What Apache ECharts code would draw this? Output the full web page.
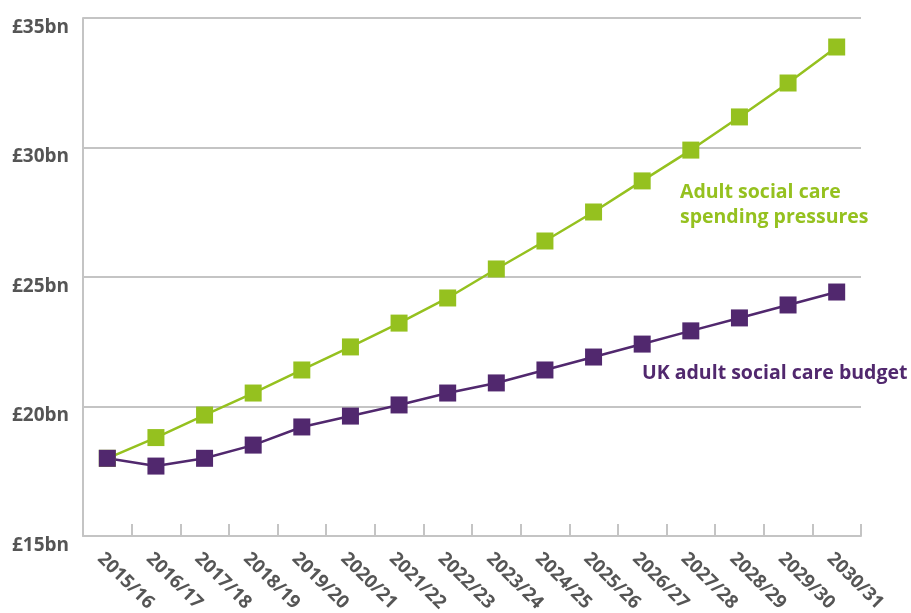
<!DOCTYPE html>
<html>
<head>
<meta charset="utf-8">
<script src="https://cdn.jsdelivr.net/npm/echarts@6/dist/echarts.min.js"></script>
<style>html,body{margin:0;padding:0;background:#fff}#c{width:911px;height:613px}</style>
</head>
<body>
<div id="c"></div>
<script>
const categories = ['2015/16','2016/17','2017/18','2018/19','2019/20','2020/21','2021/22','2022/23','2023/24','2024/25','2025/26','2026/27','2027/28','2028/29','2029/30','2030/31'];
const pressures = [18.0,18.8,19.67,20.52,21.41,22.3,23.22,24.19,25.31,26.39,27.51,28.71,29.9,31.18,32.49,33.88];
const budget = [18.0,17.7,18.0,18.51,19.21,19.63,20.06,20.52,20.91,21.41,21.91,22.41,22.92,23.42,23.92,24.42];
const yTicks = [15,20,25,30,35];
const seriesNames = ['Adult social care\nspending pressures','UK adult social care budget'];

const green = '#95c11f', purple = '#51286e', grey = '#555555';
const font = '"Open Sans", sans-serif';
const chart = echarts.init(document.getElementById('c'));
chart.setOption({
  animation: false,
  grid: {left: 83, right: 50, top: 18, bottom: 77, containLabel: false, outerBoundsMode: 'none'},
  xAxis: {
    type: 'category', data: categories, boundaryGap: true,
    axisLine: {lineStyle: {color: '#c4c4c4', width: 2}},
    axisTick: {show: true, inside: true, length: 12, lineStyle: {color: '#c4c4c4', width: 2}},
    axisLabel: {rotate: -45, color: grey, fontFamily: font, fontWeight: 700, fontSize: 18.5, margin: 13, interval: 0, verticalAlign: 'top'}
  },
  yAxis: {
    type: 'value', min: yTicks[0], max: yTicks[yTicks.length-1], interval: 5,
    axisLine: {show: true, lineStyle: {color: '#c4c4c4', width: 2}},
    axisTick: {show: false},
    splitLine: {lineStyle: {color: '#c4c4c4', width: 2}},
    axisLabel: {color: grey, fontFamily: font, fontWeight: 700, fontSize: 19, margin: 14, verticalAlign: 'top',
      formatter: v => '£' + v + 'bn'}
  },
  series: [
    {type: 'line', name: seriesNames[0], data: pressures, symbol: 'rect', symbolSize: 17,
     lineStyle: {color: green, width: 2.5}, itemStyle: {color: green}},
    {type: 'line', name: seriesNames[1], data: budget, symbol: 'rect', symbolSize: 17,
     lineStyle: {color: purple, width: 2.5}, itemStyle: {color: purple}}
  ],
  graphic: [
    {type: 'text', left: 680, top: 180, style: {text: seriesNames[0], fill: green, font: '700 19.5px ' + font, lineHeight: 25}},
    {type: 'text', left: 642, top: 363, style: {text: seriesNames[1], fill: purple, font: '700 19.5px ' + font}}
  ]
});
</script>
</body>
</html>
